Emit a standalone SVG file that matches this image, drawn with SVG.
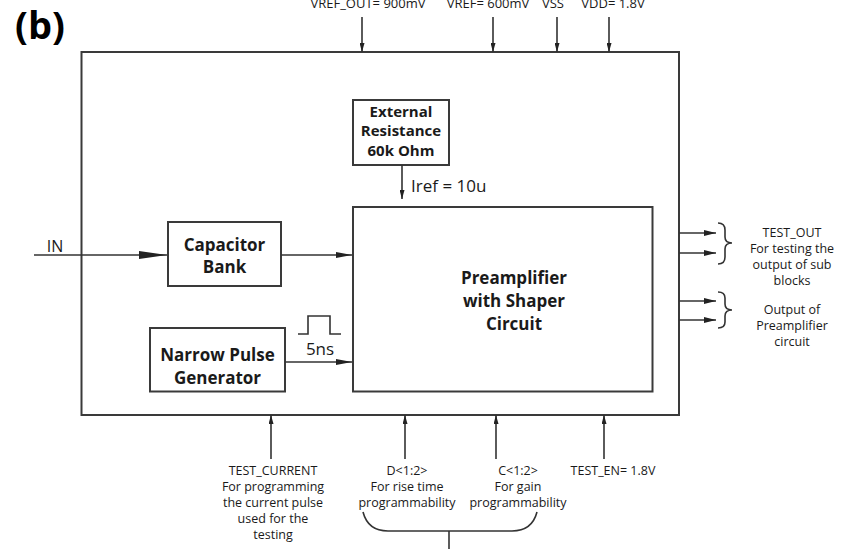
<svg xmlns="http://www.w3.org/2000/svg" width="846" height="549" viewBox="0 0 846 549">
<style>
.box{fill:#fff;stroke:#3a3a3a;stroke-width:2}
.ln{fill:none;stroke:#333;stroke-width:1.6}
.t{font-family:"Open Sans","Liberation Sans",sans-serif;font-size:13px;fill:#1a1a1a;text-anchor:middle}
.s{font-size:12.5px}
.b{font-family:"Open Sans","Liberation Sans",sans-serif;font-weight:bold;fill:#1a1a1a;text-anchor:middle}
</style>
<defs>
<marker id="aBig" markerUnits="userSpaceOnUse" viewBox="0 0 28 8" refX="28" refY="4" markerWidth="28" markerHeight="8" orient="auto"><path d="M0,0 L28,4 L0,8 z" fill="#222"/></marker>
<marker id="aMed" markerUnits="userSpaceOnUse" viewBox="0 0 16 6" refX="16" refY="3" markerWidth="16" markerHeight="6" orient="auto"><path d="M0,0 L16,3 L0,6 z" fill="#222"/></marker>
<marker id="aOut" markerUnits="userSpaceOnUse" viewBox="0 0 12 6" refX="12" refY="3" markerWidth="12" markerHeight="6" orient="auto"><path d="M0,0 L12,3 L0,6 z" fill="#222"/></marker>
<marker id="aSm" markerUnits="userSpaceOnUse" viewBox="0 0 9 5" refX="9" refY="2.5" markerWidth="9" markerHeight="5" orient="auto"><path d="M0,0 L9,2.5 L0,5 z" fill="#222"/></marker>
</defs>
<rect width="846" height="549" fill="#fff"/>
<text x="15" y="39" class="b" style="font-size:38px;text-anchor:start;fill:#000">(b)</text>
<g id="outer"><rect class="box" x="81.5" y="52" width="597.5" height="363"/></g>
<g id="external-resistance">
<rect class="box" x="353" y="100" width="96" height="65"/>
<text class="b" style="font-size:15px" x="401" y="117">External</text>
<text class="b" style="font-size:15px" x="401" y="136">Resistance</text>
<text class="b" style="font-size:15px" x="401" y="156">60k Ohm</text>
</g>
<g id="capacitor-bank">
<rect class="box" x="168" y="222" width="113" height="64"/>
<text class="b" style="font-size:17px" x="224.5" y="251">Capacitor</text>
<text class="b" style="font-size:17px" x="224.5" y="273">Bank</text>
</g>
<g id="narrow-pulse">
<rect class="box" x="150" y="328" width="135" height="63.5"/>
<text class="b" style="font-size:17px" x="217.5" y="361">Narrow Pulse</text>
<text class="b" style="font-size:17px" x="217.5" y="384">Generator</text>
</g>
<g id="preamp">
<rect class="box" x="353" y="207" width="299.5" height="184.5"/>
<text class="b" style="font-size:17px" x="514" y="284">Preamplifier</text>
<text class="b" style="font-size:17px" x="514" y="307">with Shaper</text>
<text class="b" style="font-size:17px" x="514" y="330">Circuit</text>
</g>
<g id="connectors">
<line class="ln" x1="34" y1="255" x2="167" y2="255" marker-end="url(#aBig)"/>
<line class="ln" x1="281" y1="255" x2="352" y2="255" marker-end="url(#aMed)"/>
<line class="ln" x1="285" y1="362" x2="352" y2="362" marker-end="url(#aMed)"/>
<line class="ln" x1="402" y1="165" x2="402" y2="199" marker-end="url(#aSm)"/>
<line class="ln" x1="362" y1="17" x2="362" y2="52" marker-end="url(#aSm)"/>
<line class="ln" x1="493" y1="17" x2="493" y2="52" marker-end="url(#aSm)"/>
<line class="ln" x1="557" y1="17" x2="557" y2="52" marker-end="url(#aSm)"/>
<line class="ln" x1="609" y1="17" x2="609" y2="52" marker-end="url(#aSm)"/>
<line class="ln" x1="271" y1="459" x2="271" y2="415" marker-end="url(#aSm)"/>
<line class="ln" x1="405" y1="459" x2="405" y2="415" marker-end="url(#aSm)"/>
<line class="ln" x1="496" y1="459" x2="496" y2="415" marker-end="url(#aSm)"/>
<line class="ln" x1="604" y1="459" x2="604" y2="415" marker-end="url(#aSm)"/>
<line class="ln" x1="679" y1="233" x2="716" y2="233" marker-end="url(#aOut)"/>
<line class="ln" x1="679" y1="253" x2="716" y2="253" marker-end="url(#aOut)"/>
<line class="ln" x1="679" y1="301" x2="716" y2="301" marker-end="url(#aOut)"/>
<line class="ln" x1="679" y1="320" x2="716" y2="320" marker-end="url(#aOut)"/>
<path class="ln" d="M718,223 Q725,223 725,230 L725,237 Q725,243 732,243 Q725,243 725,249 L725,257 Q725,264 718,264"/>
<path class="ln" d="M718,292 Q725,292 725,298 L725,304 Q725,310 732,310 Q725,310 725,316 L725,322 Q725,328 718,328"/>
<path class="ln" d="M363,512 Q368,531 388,531 L512,531 Q532,531 537,512"/>
<line class="ln" x1="449" y1="531" x2="449" y2="549"/>
<path class="ln" d="M298,334 L308,334 L308,316 L330,316 L330,334 L341,334"/>
</g>
<g id="labels">
<text class="t" x="368" y="8">VREF_OUT= 900mV</text>
<text class="t" x="488" y="8">VREF= 600mV</text>
<text class="t" x="553" y="8">VSS</text>
<text class="t" x="613" y="8">VDD= 1.8V</text>
<text class="t" style="font-size:16px" x="55" y="252">IN</text>
<text class="t" style="font-size:17px;text-anchor:start" x="411" y="192">Iref = 10u</text>
<text class="t" style="font-size:17px" x="320" y="355">5ns</text>
<text class="t s" x="792" y="237">TEST_OUT</text>
<text class="t s" x="792" y="253">For testing the</text>
<text class="t s" x="792" y="269">output of sub</text>
<text class="t s" x="792" y="285">blocks</text>
<text class="t s" x="792" y="314">Output of</text>
<text class="t s" x="792" y="330">Preamplifier</text>
<text class="t s" x="792" y="346">circuit</text>
<text class="t s" x="273" y="475">TEST_CURRENT</text>
<text class="t s" x="273" y="491">For programming</text>
<text class="t s" x="273" y="507">the current pulse</text>
<text class="t s" x="273" y="523">used for the</text>
<text class="t s" x="273" y="539">testing</text>
<text class="t s" x="407" y="475">D&lt;1:2&gt;</text>
<text class="t s" x="407" y="491">For rise time</text>
<text class="t s" x="407" y="507">programmability</text>
<text class="t s" x="518" y="475">C&lt;1:2&gt;</text>
<text class="t s" x="518" y="491">For gain</text>
<text class="t s" x="518" y="507">programmability</text>
<text class="t s" x="613" y="475">TEST_EN= 1.8V</text>
</g>
</svg>
